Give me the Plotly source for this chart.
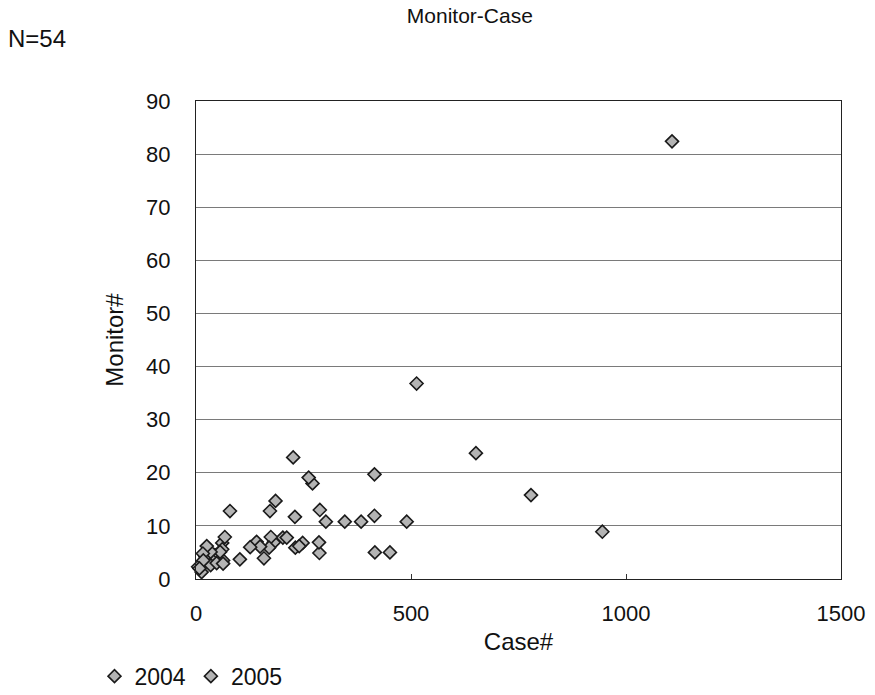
import plotly.graph_objects as go

# Case counts vs. monitor counts per site, by year
case_2004 = [1107, 651, 945, 415, 490, 451, 226, 271, 172, 288, 302, 287, 248, 231, 202,
             181, 158, 141, 102, 61, 63, 44, 33, 34, 5, 22, 48]
monitor_2004 = [82.4, 23.7, 8.9, 19.7, 10.8, 5.0, 22.9, 18.0, 12.8, 13.0, 10.8, 4.9, 6.8, 5.9, 7.8,
                6.9, 3.9, 7.0, 3.7, 6.8, 3.5, 4.5, 3.9, 2.6, 2.3, 4.2, 3.0]

case_2005 = [513, 779, 384, 415, 416, 262, 185, 79, 230, 346, 286, 240, 211, 174, 170,
             149, 126, 67, 61, 56, 63, 34, 25, 16, 17, 13, 8]
monitor_2005 = [36.8, 15.8, 10.8, 11.9, 5.0, 19.1, 14.7, 12.8, 11.7, 10.8, 6.9, 6.2, 7.8, 7.9, 5.9,
                6.1, 6.0, 7.9, 5.6, 5.1, 2.9, 5.1, 6.2, 4.8, 3.5, 1.3, 2.0]

x_ticks = [0, 500, 1000, 1500]
y_ticks = [0, 10, 20, 30, 40, 50, 60, 70, 80, 90]

FONT = "Liberation Sans, Arial, sans-serif"
marker_style = dict(symbol="diamond", size=10, color="#b4b4b4",
                    line=dict(color="#1a1a1a", width=1.6))

fig = go.Figure()
fig.add_trace(go.Scatter(x=case_2004, y=monitor_2004, mode="markers", name="2004",
                         marker=marker_style, cliponaxis=False))
fig.add_trace(go.Scatter(x=case_2005, y=monitor_2005, mode="markers", name="2005",
                         marker=marker_style, cliponaxis=False))

fig.update_layout(
    width=875, height=695,
    margin=dict(l=196, r=34, t=101, b=116, autoexpand=False),
    paper_bgcolor="white", plot_bgcolor="white",
    font=dict(family=FONT, color="#111111", size=22),
    title=dict(text="Monitor-Case", x=0.537, xanchor="center", y=0.977, yanchor="middle",
               font=dict(size=21)),
    showlegend=True,
    legend=dict(orientation="h", x=0.108, xref="container", xanchor="left",
                y=0.027, yref="container", yanchor="middle",
                font=dict(size=23), itemwidth=30, bgcolor="rgba(0,0,0,0)"),
    annotations=[dict(text="N=54", xref="paper", yref="paper", x=-0.295, y=1.13,
                      xanchor="left", yanchor="middle", showarrow=False,
                      font=dict(size=24))],
)

fig.update_xaxes(range=[0, 1500], tickvals=x_ticks, ticks="inside", ticklen=5,
                 tickcolor="#333333", showgrid=False, zeroline=False, automargin=False,
                 showline=True, linecolor="#222222", linewidth=1, mirror=True,
                 tickfont=dict(size=22), ticklabelstandoff=15,
                 title=dict(text="Case#", font=dict(size=24), standoff=22))
fig.update_yaxes(range=[0, 90], tickvals=y_ticks, ticks="", showgrid=True,
                 gridcolor="#7a7a7a", gridwidth=1, zeroline=False, automargin=False,
                 showline=True, linecolor="#222222", linewidth=1, mirror=True,
                 tickfont=dict(size=22), ticklabelstandoff=20,
                 title=dict(text="Monitor#", font=dict(size=24), standoff=15))

fig.write_html("out.html")
